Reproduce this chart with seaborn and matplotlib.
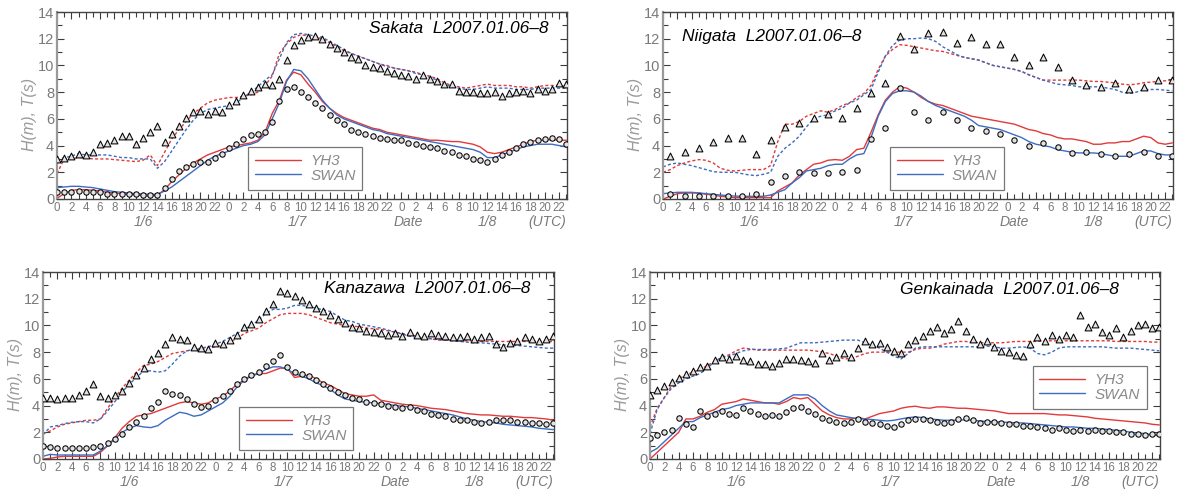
import numpy as np
import pandas as pd
import seaborn as sns
import matplotlib.pyplot as plt
from matplotlib.lines import Line2D
from matplotlib.ticker import MultipleLocator
import matplotlib.transforms as mtransforms

sns.set_theme(style="ticks")
plt.rcParams['font.family'] = ['Liberation Sans', 'DejaVu Sans']

# ---------------------------------------------------------------- time axes
hours = np.arange(72)              # hourly, 2007-01-06 00 UTC .. 01-08 23 UTC
hours_odd = np.arange(1, 72, 2)    # two-hourly observations (Niigata)
tick_hours = np.arange(0, 71, 2)
tick_labels = [str(h % 24) for h in tick_hours]
date_labels = ["1/6", "1/7", "Date", "1/8", "(UTC)"]
date_label_hours = [12, 33.5, 49, 60, 68.4]
model_names = ["YH3", "SWAN"]

# ---------------------------------------------------------------- Sakata
sakata_obs_T = [3.0, 3.1, 3.2, 3.4, 3.3, 3.5, 4.1, 4.2, 4.4, 4.7, 4.7, 4.1,
                4.6, 5.0, 5.5, 4.3, 4.9, 5.5, 6.1, 6.5, 6.6, 6.4, 6.6, 6.5,
                7.0, 7.3, 7.8, 8.1, 8.4, 8.6, 8.5, 9.0, 10.4, 11.5, 11.9, 12.1,
                12.2, 12.0, 11.6, 11.3, 11.0, 10.6, 10.5, 10.0, 9.9, 9.8, 9.6, 9.4,
                9.3, 9.2, 9.0, 9.3, 9.0, 8.8, 8.6, 8.6, 8.1, 8.0, 8.0, 7.9,
                7.9, 8.0, 7.7, 7.9, 8.0, 8.1, 7.9, 8.2, 8.1, 8.2, 8.7, 8.6]
sakata_obs_H = [0.5, 0.5, 0.5, 0.6, 0.5, 0.5, 0.5, 0.4, 0.4, 0.4, 0.35, 0.35,
                0.3, 0.3, 0.3, 0.8, 1.5, 2.1, 2.4, 2.6, 2.8, 2.8, 3.1, 3.4,
                3.8, 4.1, 4.5, 4.8, 4.9, 5.0, 5.8, 7.3, 8.2, 8.4, 8.0, 7.6,
                7.2, 6.8, 6.3, 5.9, 5.6, 5.2, 5.0, 4.9, 4.7, 4.6, 4.5, 4.4,
                4.4, 4.2, 4.1, 4.0, 3.9, 3.8, 3.6, 3.5, 3.3, 3.2, 3.0, 2.9,
                2.8, 3.0, 3.3, 3.5, 3.8, 4.1, 4.3, 4.4, 4.5, 4.6, 4.5, 4.1]
sakata_yh3_H = [0.05, 0.4, 0.65, 0.7, 0.7, 0.65, 0.6, 0.5, 0.45, 0.4, 0.35, 0.3,
                0.25, 0.2, 0.3, 0.7, 1.3, 1.8, 2.3, 2.7, 3.0, 3.3, 3.5, 3.7,
                3.9, 4.0, 4.1, 4.2, 4.4, 5.0, 6.4, 7.4, 8.9, 9.5, 9.3, 8.6,
                8.0, 7.3, 6.8, 6.4, 6.1, 5.9, 5.7, 5.5, 5.3, 5.2, 5.0, 4.9,
                4.8, 4.7, 4.6, 4.5, 4.4, 4.4, 4.35, 4.3, 4.3, 4.2, 4.1, 3.9,
                3.5, 3.4, 3.5, 3.7, 3.9, 4.1, 4.3, 4.4, 4.4, 4.45, 4.4, 4.4]
sakata_swan_H = [0.85, 0.9, 0.95, 0.95, 0.9, 0.85, 0.75, 0.65, 0.55, 0.5, 0.45, 0.4,
                 0.38, 0.35, 0.35, 0.6, 0.9, 1.3, 1.7, 2.1, 2.5, 2.9, 3.2, 3.4,
                 3.6, 3.8, 4.0, 4.1, 4.3, 4.8, 6.0, 7.2, 8.8, 9.7, 9.6, 9.0,
                 8.2, 7.4, 6.8, 6.3, 6.0, 5.8, 5.6, 5.4, 5.2, 5.1, 4.9, 4.8,
                 4.7, 4.6, 4.5, 4.4, 4.3, 4.2, 4.1, 4.0, 3.9, 3.8, 3.7, 3.5,
                 3.1, 3.1, 3.3, 3.5, 3.7, 3.9, 4.0, 4.1, 4.1, 4.1, 4.0, 3.9]
sakata_yh3_T = [1.9, 3.0, 3.0, 3.1, 3.1, 3.0, 3.0, 3.0, 2.95, 2.9, 2.85, 2.8,
                2.9, 3.3, 2.5, 3.5, 4.5, 5.2, 5.8, 6.4, 6.8, 7.2, 7.4, 7.5,
                7.6, 7.6, 7.7, 7.8, 8.0, 8.5, 9.2, 10.9, 11.6, 12.1, 12.3, 12.2,
                12.1, 12.0, 11.7, 11.4, 11.1, 10.9, 10.7, 10.5, 10.3, 10.1, 10.0, 9.8,
                9.7, 9.6, 9.5, 9.3, 9.2, 9.0, 8.7, 8.5, 8.4, 8.3, 8.4, 8.5,
                8.6, 8.5, 8.5, 8.5, 8.4, 8.4, 8.3, 8.4, 8.5, 8.5, 8.5, 8.4]
sakata_swan_T = [2.9, 3.1, 3.2, 3.4, 3.3, 3.3, 3.3, 3.3, 3.2, 3.1, 3.1, 3.0,
                 3.0, 3.0, 2.3, 2.8, 3.6, 4.4, 5.2, 5.9, 6.4, 6.7, 6.8, 6.9,
                 7.0, 7.2, 7.6, 8.0, 8.4, 8.9, 9.3, 10.5, 11.7, 12.3, 12.4, 12.3,
                 12.2, 12.1, 11.8, 11.5, 11.2, 10.9, 10.7, 10.5, 10.3, 10.1, 9.9, 9.8,
                 9.7, 9.6, 9.4, 9.3, 9.1, 8.9, 8.6, 8.4, 8.3, 8.2, 8.2, 8.3,
                 8.4, 8.3, 8.3, 8.3, 8.2, 8.2, 8.2, 8.3, 8.3, 8.3, 8.3, 8.3]

# ---------------------------------------------------------------- Niigata
niigata_obs_T = [3.2, 3.5, 3.8, 4.3, 4.6, 4.6, 3.4, 4.4, 5.4, 5.7, 6.1, 6.4,
                 6.1, 6.8, 7.9, 8.7, 12.2, 11.2, 12.4, 12.5, 11.7, 12.1, 11.6, 11.6,
                 10.6, 10.0, 10.6, 9.9, 8.9, 8.5, 8.4, 8.7, 8.2, 8.4, 8.9, 8.9]
niigata_obs_H = [0.37, 0.25, 0.2, 0.2, 0.2, 0.2, 0.37, 1.3, 1.7, 2.05, 1.95, 1.95,
                 2.0, 2.2, 4.5, 5.3, 8.3, 6.5, 5.9, 6.5, 5.95, 5.35, 5.1, 4.85,
                 4.4, 4.0, 4.2, 3.9, 3.45, 3.5, 3.35, 3.25, 3.4, 3.5, 3.2, 3.25]
niigata_yh3_H = [0.0, 0.2, 0.4, 0.45, 0.45, 0.45, 0.35, 0.3, 0.2, 0.15, 0.1, 0.1,
                 0.1, 0.1, 0.1, 0.1, 0.6, 0.9, 1.2, 1.8, 2.2, 2.6, 2.7, 2.9,
                 2.95, 2.9, 3.2, 3.7, 3.8, 5.0, 6.3, 7.4, 8.0, 8.4, 8.3, 8.0,
                 7.6, 7.3, 7.1, 7.0, 6.8, 6.6, 6.4, 6.2, 6.1, 6.0, 5.9, 5.8,
                 5.7, 5.6, 5.4, 5.2, 5.1, 4.9, 4.8, 4.6, 4.5, 4.5, 4.4, 4.3,
                 4.1, 4.1, 4.2, 4.2, 4.3, 4.3, 4.5, 4.7, 4.6, 4.2, 4.1, 4.2]
niigata_swan_H = [0.4, 0.45, 0.5, 0.5, 0.5, 0.45, 0.4, 0.35, 0.3, 0.25, 0.22, 0.2,
                  0.2, 0.2, 0.2, 0.3, 0.5, 0.7, 1.2, 1.6, 2.1, 2.2, 2.3, 2.5,
                  2.6, 2.6, 3.0, 3.3, 3.4, 4.6, 6.2, 7.3, 7.9, 8.1, 8.1, 8.0,
                  7.7, 7.3, 7.0, 6.8, 6.6, 6.4, 6.2, 5.9, 5.5, 5.4, 5.3, 5.2,
                  5.0, 4.8, 4.6, 4.3, 4.1, 4.0, 3.9, 3.7, 3.6, 3.5, 3.45, 3.45,
                  3.45, 3.4, 3.3, 3.2, 3.2, 3.2, 3.4, 3.6, 3.6, 3.4, 3.3, 3.3]
niigata_yh3_T = [2.0, 2.2, 2.5, 2.7, 2.85, 2.95, 2.9, 2.7, 2.3, 2.15, 2.1, 2.15,
                 2.2, 2.2, 2.2, 2.5, 4.3, 5.6, 5.6, 5.8, 6.2, 6.4, 6.6, 6.5,
                 6.7, 7.0, 7.2, 7.6, 7.9, 8.5, 9.7, 10.7, 11.2, 11.55, 11.5, 11.4,
                 11.3, 11.2, 11.1, 11.05, 10.9, 10.75, 10.6, 10.5, 10.4, 10.2, 10.0, 9.9,
                 9.8, 9.7, 9.55, 9.3, 9.1, 8.9, 8.9, 8.9, 8.9, 8.9, 8.9, 8.85,
                 8.8, 8.8, 8.75, 8.7, 8.6, 8.55, 8.6, 8.7, 8.75, 8.8, 8.85, 8.9]
niigata_swan_T = [2.4, 2.6, 2.7, 2.6, 2.5, 2.35, 2.2, 2.05, 2.0, 2.0, 2.0, 1.9,
                  1.8, 1.75, 1.85, 2.0, 3.2, 3.8, 4.2, 4.7, 5.4, 6.0, 6.2, 6.3,
                  6.6, 6.8, 7.2, 7.4, 7.8, 8.2, 9.5, 10.7, 11.5, 11.9, 12.0, 12.0,
                  12.05, 12.0, 11.8, 11.4, 11.1, 10.8, 10.6, 10.5, 10.4, 10.2, 10.0, 9.9,
                  9.8, 9.7, 9.55, 9.3, 9.1, 8.9, 8.75, 8.6, 8.55, 8.5, 8.4, 8.4,
                  8.4, 8.4, 8.3, 8.2, 8.0, 7.9, 8.0, 8.2, 8.2, 8.2, 8.15, 8.1]

# ---------------------------------------------------------------- Kanazawa
kanazawa_obs_T = [4.6, 4.6, 4.5, 4.6, 4.6, 4.8, 5.1, 5.6, 4.7, 4.6, 4.8, 5.1,
                  5.7, 6.3, 6.8, 7.5, 7.9, 8.6, 9.1, 9.0, 8.9, 8.4, 8.3, 8.2,
                  8.7, 8.6, 8.9, 9.3, 9.9, 10.1, 10.5, 11.1, 11.6, 12.6, 12.4, 12.2,
                  11.9, 11.6, 11.3, 11.1, 10.8, 10.5, 10.2, 9.9, 9.8, 9.6, 9.5, 9.4,
                  9.3, 9.4, 9.2, 9.5, 9.3, 9.2, 9.4, 9.3, 9.2, 9.1, 9.1, 9.2,
                  9.0, 9.1, 9.2, 8.6, 8.4, 8.7, 8.8, 9.1, 9.0, 8.8, 9.0, 9.2]
kanazawa_obs_H = [0.95, 0.9, 0.85, 0.8, 0.8, 0.8, 0.85, 0.9, 1.0, 1.2, 1.5, 1.9,
                  2.4, 2.8, 3.2, 3.8, 4.3, 5.1, 4.9, 4.8, 4.5, 4.1, 3.9, 4.0,
                  4.4, 4.7, 5.1, 5.6, 6.0, 6.3, 6.5, 7.0, 7.3, 7.8, 6.9, 6.5,
                  6.4, 6.2, 5.9, 5.6, 5.3, 5.0, 4.8, 4.6, 4.5, 4.3, 4.2, 4.1,
                  4.0, 3.9, 3.8, 3.9, 3.7, 3.6, 3.4, 3.3, 3.2, 3.0, 2.9, 2.9,
                  2.8, 2.7, 2.8, 2.9, 2.9, 2.9, 2.8, 2.8, 2.7, 2.7, 2.6, 2.7]
kanazawa_yh3_H = [0.0, 0.05, 0.15, 0.2, 0.2, 0.2, 0.2, 0.2, 0.5, 1.0, 1.6, 2.3,
                  2.8, 3.2, 3.3, 3.4, 3.6, 3.8, 4.0, 4.2, 4.3, 4.2, 4.1, 4.2,
                  4.5, 4.7, 5.1, 5.6, 5.9, 6.2, 6.4, 6.4, 6.6, 6.8, 6.8, 6.1,
                  6.2, 6.3, 6.0, 5.7, 5.5, 5.2, 4.9, 4.8, 4.7, 4.7, 4.8, 4.4,
                  4.3, 4.2, 4.1, 4.05, 4.0, 3.9, 3.8, 3.75, 3.7, 3.6, 3.5, 3.4,
                  3.35, 3.3, 3.3, 3.25, 3.2, 3.2, 3.15, 3.1, 3.1, 3.05, 3.0, 2.9]
kanazawa_swan_H = [0.2, 0.35, 0.3, 0.3, 0.3, 0.3, 0.3, 0.3, 0.6, 1.0, 1.5, 2.0,
                   2.3, 2.5, 2.4, 2.35, 2.5, 2.9, 3.2, 3.5, 3.4, 3.2, 3.3, 3.6,
                   3.9, 4.2, 4.7, 5.4, 5.9, 6.3, 6.4, 6.7, 6.9, 6.9, 6.7, 6.4,
                   6.2, 6.0, 5.7, 5.5, 5.2, 4.8, 4.5, 4.4, 4.3, 4.25, 4.2, 4.15,
                   4.1, 4.0, 3.95, 3.9, 3.8, 3.7, 3.6, 3.5, 3.4, 3.3, 3.15, 3.0,
                   2.9, 2.8, 2.75, 2.7, 2.6, 2.55, 2.5, 2.45, 2.4, 2.3, 2.25, 2.2]
kanazawa_yh3_T = [1.9, 2.1, 2.4, 2.6, 2.7, 2.8, 2.9, 2.9, 3.0, 3.8, 4.6, 5.3,
                  5.9, 6.5, 7.0, 7.1, 7.3, 7.6, 7.9, 8.0, 8.1, 8.2, 8.2, 8.3,
                  8.4, 8.5, 8.8, 9.0, 9.4, 9.6, 9.8, 10.2, 10.5, 10.8, 10.9, 10.9,
                  10.9, 10.8, 10.6, 10.4, 10.2, 10.1, 10.0, 9.95, 9.9, 9.8, 9.75, 9.7,
                  9.6, 9.5, 9.4, 9.3, 9.2, 9.1, 9.0, 8.9, 8.9, 8.9, 8.85, 8.85,
                  8.85, 8.8, 8.8, 8.8, 8.8, 8.8, 8.8, 8.8, 8.8, 8.8, 8.8, 8.8]
kanazawa_swan_T = [1.8, 2.4, 2.5, 2.65, 2.75, 2.8, 2.8, 2.7, 3.0, 3.6, 4.3, 5.0,
                   5.6, 6.1, 6.6, 6.6, 6.5, 6.6, 7.1, 7.7, 8.1, 8.2, 8.3, 8.4,
                   8.6, 8.8, 9.1, 9.4, 9.7, 10.0, 10.4, 10.9, 11.2, 11.2, 11.3, 11.5,
                   11.5, 11.4, 11.3, 11.15, 11.05, 10.7, 10.4, 10.3, 10.1, 10.0, 9.9, 9.8,
                   9.65, 9.5, 9.35, 9.2, 9.1, 9.05, 9.0, 8.95, 8.9, 8.85, 8.8, 8.75,
                   8.7, 8.7, 8.65, 8.6, 8.55, 8.5, 8.5, 8.45, 8.4, 8.35, 8.3, 8.3]

# ---------------------------------------------------------------- Genkainada
genkai_obs_T = [4.8, 5.2, 5.5, 5.8, 6.1, 6.4, 6.6, 6.9, 7.0, 7.4, 7.6, 7.5,
                7.7, 7.4, 7.3, 7.1, 7.1, 7.0, 7.2, 7.5, 7.5, 7.4, 7.3, 7.2,
                7.9, 7.4, 7.6, 7.9, 7.6, 8.3, 8.8, 8.6, 8.7, 8.4, 8.1, 7.9,
                8.6, 8.9, 9.2, 9.6, 9.9, 9.4, 9.7, 10.3, 9.6, 9.0, 8.6, 8.8,
                8.4, 8.1, 8.0, 7.8, 7.7, 8.6, 9.1, 8.8, 9.3, 9.0, 9.3, 9.1,
                10.8, 9.9, 10.1, 9.5, 9.3, 9.8, 9.1, 9.6, 10.0, 10.1, 9.8, 9.9]
genkai_obs_H = [1.6, 1.8, 2.0, 2.2, 3.1, 2.6, 2.4, 3.6, 3.2, 3.4, 3.6, 3.4,
                3.3, 3.8, 3.6, 3.4, 3.2, 3.3, 3.2, 3.5, 3.8, 3.9, 3.6, 3.4,
                3.1, 2.9, 2.8, 2.7, 2.8, 3.0, 2.8, 2.7, 2.6, 2.5, 2.4, 2.6,
                2.9, 3.0, 3.0, 2.9, 2.8, 2.7, 2.8, 3.0, 3.1, 2.9, 2.7, 2.8,
                2.8, 2.7, 2.6, 2.6, 2.5, 2.5, 2.4, 2.3, 2.2, 2.3, 2.2, 2.1,
                2.2, 2.1, 2.2, 2.1, 2.1, 2.0, 2.0, 1.9, 1.9, 1.8, 1.9, 1.9]
genkai_yh3_H = [0.0, 0.5, 1.0, 1.5, 2.0, 3.0, 3.0, 3.2, 3.5, 3.7, 4.1, 4.2,
                4.3, 4.5, 4.4, 4.3, 4.2, 4.2, 4.1, 4.3, 4.6, 4.5, 4.6, 4.1,
                3.6, 3.3, 3.1, 3.0, 3.0, 3.1, 3.0, 3.2, 3.4, 3.5, 3.6, 3.8,
                3.9, 3.95, 3.85, 3.8, 3.9, 3.9, 3.85, 3.8, 3.8, 3.75, 3.7, 3.65,
                3.6, 3.5, 3.4, 3.4, 3.4, 3.4, 3.4, 3.4, 3.35, 3.3, 3.3, 3.25,
                3.2, 3.15, 3.05, 3.0, 2.95, 2.9, 2.85, 2.8, 2.75, 2.7, 2.6, 2.55]
genkai_swan_H = [0.5, 0.8, 1.3, 1.8, 2.3, 2.8, 2.8, 3.1, 3.3, 3.5, 3.7, 3.8,
                 4.0, 4.1, 4.2, 4.2, 4.2, 4.2, 4.2, 4.5, 4.8, 4.8, 4.8, 4.5,
                 4.0, 3.6, 3.3, 3.2, 3.1, 3.0, 3.0, 2.95, 2.9, 2.85, 2.9, 3.0,
                 3.1, 3.15, 3.1, 3.0, 2.95, 2.9, 2.9, 2.9, 2.95, 2.9, 2.85, 2.8,
                 2.8, 2.75, 2.75, 2.7, 2.7, 2.65, 2.6, 2.55, 2.5, 2.45, 2.4, 2.4,
                 2.35, 2.3, 2.3, 2.25, 2.2, 2.15, 2.1, 2.0, 1.95, 1.9, 1.8, 1.75]
genkai_yh3_T = [2.4, 3.8, 4.6, 5.5, 6.0, 6.3, 6.5, 6.7, 7.0, 7.3, 7.6, 7.8,
                8.1, 8.3, 8.25, 8.15, 8.15, 8.15, 8.15, 8.15, 8.15, 8.15, 8.15, 8.1,
                8.0, 7.9, 7.7, 7.5, 7.5, 7.7, 7.9, 8.0, 8.0, 8.0, 8.0, 8.0,
                8.0, 8.2, 8.3, 8.3, 8.4, 8.6, 8.7, 8.8, 8.8, 8.75, 8.7, 8.7,
                8.7, 8.7, 8.75, 8.8, 8.8, 8.8, 8.8, 8.85, 8.85, 8.85, 8.85, 8.85,
                8.85, 8.85, 8.85, 8.85, 8.85, 8.8, 8.8, 8.8, 8.8, 8.8, 8.75, 8.75]
genkai_swan_T = [1.9, 3.7, 4.6, 5.3, 5.7, 6.0, 6.2, 6.4, 6.8, 7.3, 7.6, 7.7,
                 7.9, 8.1, 8.2, 8.2, 8.2, 8.2, 8.25, 8.3, 8.5, 8.7, 8.7, 8.7,
                 8.75, 8.8, 8.85, 8.9, 8.9, 8.9, 8.7, 8.5, 8.3, 8.0, 7.7, 7.5,
                 7.9, 8.3, 8.4, 8.4, 8.4, 8.4, 8.4, 8.4, 8.4, 8.4, 8.4, 8.45,
                 8.4, 8.3, 8.3, 8.35, 8.4, 8.3, 7.9, 7.8, 8.0, 8.3, 8.4, 8.4,
                 8.4, 8.4, 8.4, 8.4, 8.35, 8.3, 8.3, 8.3, 8.25, 8.2, 8.15, 8.1]

# ---------------------------------------------------------------- panels
panels = [
    dict(title="Sakata  L2007.01.06\u20138", obs_t=hours,
         obs_T=sakata_obs_T, obs_H=sakata_obs_H,
         yh3_H=sakata_yh3_H, swan_H=sakata_swan_H,
         yh3_T=sakata_yh3_T, swan_T=sakata_swan_T,
         rect=[57/1179, 1 - 199/495, 510/1179, 187/495],
         title_xy=(0.963, 0.91), title_ha="right",
         legend_xy=(0.375, 0.05)),
    dict(title="Niigata  L2007.01.06\u20138", obs_t=hours_odd,
         obs_T=niigata_obs_T, obs_H=niigata_obs_H,
         yh3_H=niigata_yh3_H, swan_H=niigata_swan_H,
         yh3_T=niigata_yh3_T, swan_T=niigata_swan_T,
         rect=[663/1179, 1 - 199/495, 510/1179, 187/495],
         title_xy=(0.037, 0.87), title_ha="left",
         legend_xy=(0.445, 0.05)),
    dict(title="Kanazawa  L2007.01.06\u20138", obs_t=hours,
         obs_T=kanazawa_obs_T, obs_H=kanazawa_obs_H,
         yh3_H=kanazawa_yh3_H, swan_H=kanazawa_swan_H,
         yh3_T=kanazawa_yh3_T, swan_T=kanazawa_swan_T,
         rect=[43/1179, 1 - 459/495, 511/1179, 187/495],
         title_xy=(0.953, 0.91), title_ha="right",
         legend_xy=(0.384, 0.05)),
    dict(title="Genkainada  L2007.01.06\u20138", obs_t=hours,
         obs_T=genkai_obs_T, obs_H=genkai_obs_H,
         yh3_H=genkai_yh3_H, swan_H=genkai_swan_H,
         yh3_T=genkai_yh3_T, swan_T=genkai_swan_T,
         rect=[650/1179, 1 - 459/495, 510/1179, 187/495],
         title_xy=(0.92, 0.905), title_ha="right",
         legend_xy=(0.75, 0.27)),
]

RED = "#e23a3a"
BLUE = "#3d6cc0"
GRAY_TXT = "#7a7a7a"
DOTTED = (0, (2.2, 1.6))

fig = plt.figure(figsize=(11.79, 4.95), dpi=100)

for p in panels:
    ax = fig.add_axes(p["rect"])
    line_kw = dict(ax=ax, estimator=None, linewidth=1.0, legend=False)
    sns.lineplot(x=hours, y=p["yh3_T"], color=RED, linestyle=DOTTED, **line_kw)
    sns.lineplot(x=hours, y=p["swan_T"], color=BLUE, linestyle=DOTTED, **line_kw)
    sns.lineplot(x=hours, y=p["yh3_H"], color=RED, **line_kw)
    sns.lineplot(x=hours, y=p["swan_H"], color=BLUE, **line_kw)

    obs = pd.DataFrame({"t": p["obs_t"], "T": p["obs_T"], "H": p["obs_H"]})
    sns.scatterplot(data=obs, x="t", y="T", ax=ax, marker="^", s=24,
                    facecolor="#e2e2e2", edgecolor="black", linewidth=0.75,
                    zorder=4, legend=False)
    sns.scatterplot(data=obs, x="t", y="H", ax=ax, marker="o", s=15,
                    facecolor="#e2e2e2", edgecolor="black", linewidth=0.75,
                    zorder=4, legend=False)

    ax.set_xlim(0, 71.1)
    ax.set_ylim(0, 14)
    ax.set_xticks(tick_hours)
    ax.set_xticklabels(tick_labels)
    ax.xaxis.set_minor_locator(MultipleLocator(1))
    ax.set_yticks(np.arange(0, 15, 2))
    ax.yaxis.set_minor_locator(MultipleLocator(1))
    ax.tick_params(axis="both", which="both", direction="in", top=True,
                   right=True, color="#3c3c3c", width=0.8)
    ax.tick_params(axis="both", which="major", length=5)
    ax.tick_params(axis="both", which="minor", length=3.5)
    ax.tick_params(axis="x", which="major", labelsize=8.3, labelcolor=GRAY_TXT, pad=2)
    ax.tick_params(axis="y", which="major", labelsize=10.5, labelcolor=GRAY_TXT, pad=2)
    ax.set_xlabel("")
    ax.set_ylabel("H(m), T(s)", style="italic", color="#9a9a9a", fontsize=11.5)
    ax.yaxis.set_label_coords(-0.039, 0.45)
    for side, sp in ax.spines.items():
        sp.set_color("#444444")
        sp.set_linewidth(1.0)
    ax.spines["left"].set_color("#9a9a9a")
    ax.spines["left"].set_linewidth(1.6)

    trans = mtransforms.blended_transform_factory(ax.transData, ax.transAxes)
    for lab, hx in zip(date_labels, date_label_hours):
        ax.text(hx, -0.125, lab, transform=trans, ha="center", va="center",
                style="italic", color=GRAY_TXT, fontsize=10)

    ax.text(p["title_xy"][0], p["title_xy"][1], p["title"], transform=ax.transAxes,
            ha=p["title_ha"], va="center", style="italic", color="black",
            fontsize=12.5)

    handles = [Line2D([], [], color=RED, lw=1.0), Line2D([], [], color=BLUE, lw=1.0)]
    leg = ax.legend(handles, model_names, loc="lower left",
                    bbox_to_anchor=p["legend_xy"], borderaxespad=0,
                    frameon=True, fancybox=False, handlelength=3.0,
                    handletextpad=0.6, labelspacing=0.05, borderpad=0.45,
                    prop=dict(style="italic", size=11), labelcolor="#8a8a8a")
    leg.get_frame().set_edgecolor("#555555")
    leg.get_frame().set_linewidth(0.9)
    leg.get_frame().set_facecolor("white")
    leg.set_zorder(6)

fig.savefig("out.png", dpi=100)
